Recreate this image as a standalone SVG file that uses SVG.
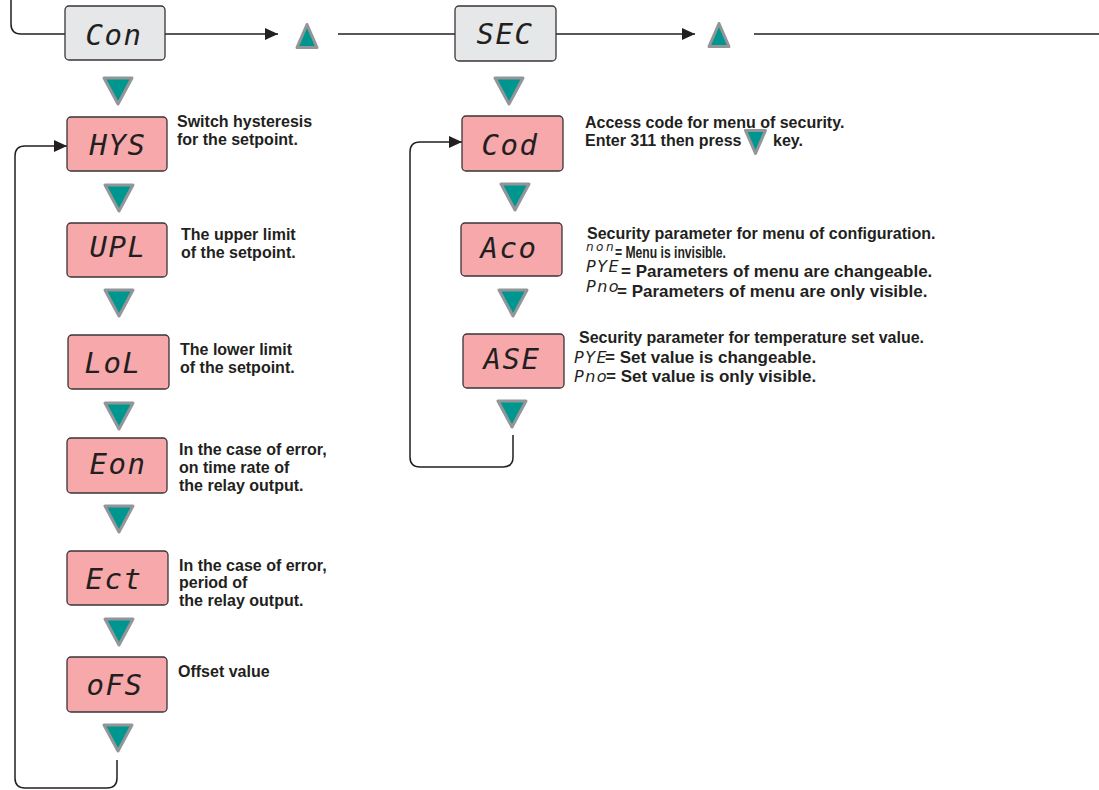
<svg xmlns="http://www.w3.org/2000/svg" xmlns:xlink="http://www.w3.org/1999/xlink" width="1099" height="790" viewBox="0 0 1099 790">
<style>
.box{fill:#f7a8ab;stroke:#3a3536;stroke-width:1.3}
.gbox{fill:#e6e7e8;stroke:#3a3536;stroke-width:1.3}
.seg{font-family:"DejaVu Sans Mono",monospace;font-style:oblique;font-size:29px;fill:#231f20;text-anchor:middle;letter-spacing:1.5px}
.sseg{font-family:"DejaVu Sans",sans-serif;font-weight:200;font-style:oblique;font-size:16px;fill:#231f20;letter-spacing:1.5px}
.lbl{font-family:"Liberation Sans",Arial,sans-serif;font-weight:bold;font-size:16px;fill:#231f20}
.sub{font-size:17px}
.tri{fill:#009690;stroke:#939598;stroke-width:3;stroke-linejoin:round}
.ln{fill:none;stroke:#231f20;stroke-width:1.5}
</style>
<defs>
<marker id="ah" markerWidth="14" markerHeight="12" refX="13" refY="6" orient="auto" markerUnits="userSpaceOnUse">
<path d="M0,0 L13,6 L0,12 Z" fill="#231f20"/>
</marker>
<path id="tdown" class="tri" d="M2,2 H30 L16,28 Z"/>
<path id="tup" class="tri" d="M11,1.5 L21,24.5 H1 Z"/>
</defs>

<g id="connectors">
<path class="ln" d="M11,0 V24 Q11,34 21,34 H65"/>
<path class="ln" d="M165,34 H278" marker-end="url(#ah)"/>
<path class="ln" d="M338,34 H455"/>
<path class="ln" d="M556,34 H695" marker-end="url(#ah)"/>
<path class="ln" d="M754,34 H1099"/>
<path class="ln" d="M117,760 V778 Q117,788 107,788 H25 Q15,788 15,778 V156 Q15,146 25,146 H67" marker-end="url(#ah)"/>
<path class="ln" d="M513,435 V457 Q513,467 503,467 H420 Q410,467 410,457 V152 Q410,142 420,142 H462" marker-end="url(#ah)"/>
</g>

<g id="keys">
<use xlink:href="#tup" x="296" y="23"/>
<use xlink:href="#tup" x="708" y="22"/>
<use xlink:href="#tdown" x="102" y="76"/>
<use xlink:href="#tdown" x="493" y="76"/>
<use xlink:href="#tdown" x="103" y="183"/>
<use xlink:href="#tdown" x="103" y="288"/>
<use xlink:href="#tdown" x="103" y="401"/>
<use xlink:href="#tdown" x="103" y="504"/>
<use xlink:href="#tdown" x="103" y="617"/>
<use xlink:href="#tdown" x="102" y="723"/>
<use xlink:href="#tdown" x="499" y="182"/>
<use xlink:href="#tdown" x="497" y="288"/>
<use xlink:href="#tdown" x="496" y="399"/>
</g>

<g id="node-Con">
<rect class="gbox" x="65" y="6" width="100" height="54" rx="4"/>
<text class="seg" x="114" y="45">Con</text>
</g>
<g id="node-SEC">
<rect class="gbox" x="455" y="6" width="101" height="55" rx="4"/>
<text class="seg" x="505" y="44">SEC</text>
</g>

<g id="node-HYS">
<rect class="box" x="67" y="117" width="100" height="54" rx="4"/>
<text class="seg" x="118" y="155">HYS</text>
<text class="lbl" x="177" y="127">Switch hysteresis</text>
<text class="lbl" x="177" y="145">for the setpoint.</text>
</g>
<g id="node-UPL">
<rect class="box" x="67" y="223" width="100" height="54" rx="4"/>
<text class="seg" x="118" y="257">UPL</text>
<text class="lbl" x="181" y="240">The upper limit</text>
<text class="lbl" x="181" y="258">of the setpoint.</text>
</g>
<g id="node-LoL">
<rect class="box" x="68" y="335" width="101" height="54" rx="4"/>
<text class="seg" x="113" y="373">LoL</text>
<text class="lbl" x="180" y="355">The lower limit</text>
<text class="lbl" x="180" y="373">of the setpoint.</text>
</g>
<g id="node-Eon">
<rect class="box" x="67" y="438" width="100" height="55" rx="4"/>
<text class="seg" x="118" y="474">Eon</text>
<text class="lbl" x="179" y="455">In the case of error,</text>
<text class="lbl" x="179" y="473">on time rate of</text>
<text class="lbl" x="179" y="491">the relay output.</text>
</g>
<g id="node-Ect">
<rect class="box" x="67" y="551" width="101" height="54" rx="4"/>
<text class="seg" x="114" y="589">Ect</text>
<text class="lbl" x="179" y="571">In the case of error,</text>
<text class="lbl" x="179" y="588">period of</text>
<text class="lbl" x="179" y="606">the relay output.</text>
</g>
<g id="node-oFS">
<rect class="box" x="67" y="657" width="100" height="55" rx="4"/>
<text class="seg" x="115" y="695">oFS</text>
<text class="lbl" x="178" y="677">Offset value</text>
</g>

<g id="node-Cod">
<rect class="box" x="462" y="116" width="101" height="55" rx="4"/>
<text class="seg" x="510" y="155">Cod</text>
<text class="lbl" x="585" y="128">Access code for menu of security.</text>
<text class="lbl" x="585" y="146">Enter 311 then press</text>
<path class="tri" d="M745.5,130.5 H765.5 L755.5,153.5 Z"/>
<text class="lbl" x="773" y="146">key.</text>
</g>
<g id="node-Aco">
<rect class="box" x="461" y="223" width="101" height="53" rx="4"/>
<text class="seg" x="509" y="258">Aco</text>
<text class="lbl" x="587" y="239">Security parameter for menu of configuration.</text>
<text class="sseg" x="586" y="251" style="font-size:12px;letter-spacing:2.5px">non</text>
<text class="lbl sub" x="615" y="258" textLength="111" lengthAdjust="spacingAndGlyphs">= Menu is invisible.</text>
<text class="sseg" x="586" y="272">PYE</text>
<text class="lbl sub" x="621" y="277">= Parameters of menu are changeable.</text>
<text class="sseg" x="586" y="292">Pno</text>
<text class="lbl sub" x="617" y="297">= Parameters of menu are only visible.</text>
</g>
<g id="node-ASE">
<rect class="box" x="463" y="334" width="101" height="54" rx="4"/>
<text class="seg" x="512" y="369">ASE</text>
<text class="lbl" x="579" y="343">Security parameter for temperature set value.</text>
<text class="sseg" x="574" y="363">PYE</text>
<text class="lbl sub" x="605" y="363">= Set value is changeable.</text>
<text class="sseg" x="574" y="382">Pno</text>
<text class="lbl sub" x="606" y="382">= Set value is only visible.</text>
</g>
</svg>
